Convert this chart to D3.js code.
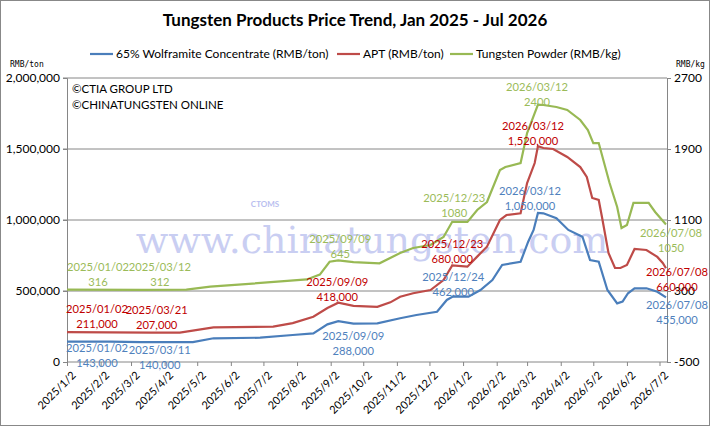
<!DOCTYPE html>
<html><head><meta charset="utf-8">
<script src="https://cdn.jsdelivr.net/npm/d3@7"></script>
<style>body{margin:0;background:#fff}svg{font-family:Lato,"Liberation Sans",sans-serif}</style>
</head><body><svg id="c" width="710" height="426"></svg>
<script>
const wolframite = [["2025-01-02",143000],["2025-02-11",143000],["2025-03-11",140000],["2025-04-28",140000],["2025-05-17",167000],["2025-06-29",171000],["2025-07-29",190000],["2025-08-17",202000],["2025-08-30",265000],["2025-09-09",288000],["2025-09-23",270000],["2025-10-15",272000],["2025-11-05",308000],["2025-11-20",331000],["2025-12-09",354000],["2025-12-18",437000],["2025-12-24",462000],["2026-01-07",460000],["2026-01-18",507000],["2026-01-29",577000],["2026-02-07",683000],["2026-02-24",706000],["2026-03-03",847000],["2026-03-08",930000],["2026-03-12",1050000],["2026-03-17",1047000],["2026-03-29",1012000],["2026-04-09",930000],["2026-04-22",882000],["2026-04-29",718000],["2026-05-07",706000],["2026-05-15",507000],["2026-05-24",413000],["2026-05-29",425000],["2026-06-03",484000],["2026-06-09",519000],["2026-06-20",519000],["2026-06-30",495000],["2026-07-08",455000]];
const apt = [["2025-01-02",211000],["2025-03-21",207000],["2025-04-16",207000],["2025-05-17",244000],["2025-07-11",249000],["2025-07-29",274000],["2025-08-17",319000],["2025-08-30",380000],["2025-09-09",418000],["2025-09-23",395000],["2025-10-15",388000],["2025-10-27",420000],["2025-11-05",460000],["2025-11-17",484000],["2025-12-03",507000],["2025-12-15",577000],["2025-12-23",680000],["2026-01-06",671000],["2026-01-15",742000],["2026-01-24",812000],["2026-02-05",1000000],["2026-02-11",1035000],["2026-02-24",1047000],["2026-03-02",1260000],["2026-03-09",1401000],["2026-03-12",1520000],["2026-03-17",1507000],["2026-03-26",1500000],["2026-04-08",1444000],["2026-04-20",1373000],["2026-04-26",1303000],["2026-05-01",1155000],["2026-05-07",1141000],["2026-05-10",1021000],["2026-05-16",768000],["2026-05-22",662000],["2026-05-27",662000],["2026-06-02",683000],["2026-06-09",796000],["2026-06-20",789000],["2026-06-30",740000],["2026-07-05",697000],["2026-07-08",660000]];
const powder = [["2025-01-02",316],["2025-03-12",312],["2025-04-22",316],["2025-05-14",349],["2025-07-24",413],["2025-08-11",430],["2025-08-23",485],["2025-09-01",630],["2025-09-09",645],["2025-09-23",625],["2025-10-17",612],["2025-11-05",728],["2025-11-17",785],["2025-12-03",818],["2025-12-15",908],["2025-12-23",1080],["2026-01-06",1078],["2026-01-15",1213],["2026-01-24",1303],["2026-02-05",1663],["2026-02-10",1697],["2026-02-24",1742],["2026-03-02",2080],["2026-03-12",2400],["2026-03-17",2396],["2026-03-29",2373],["2026-04-08",2340],["2026-04-20",2227],["2026-04-27",2114],["2026-05-02",1967],["2026-05-07",1967],["2026-05-17",1517],["2026-05-24",1246],["2026-05-28",1010],["2026-06-02",1044],["2026-06-08",1292],["2026-06-22",1292],["2026-06-28",1190],["2026-07-08",1050]];
const leftTicks = [0,500000,1000000,1500000,2000000];
const rightTicks = [-500,300,1100,1900,2700];
const monthTicks = ["2025-01-02","2025-02-02","2025-03-02","2025-04-02","2025-05-02","2025-06-02","2025-07-02","2025-08-02","2025-09-02","2025-10-02","2025-11-02","2025-12-02","2026-01-02","2026-02-02","2026-03-02","2026-04-02","2026-05-02","2026-06-02","2026-07-02"];
// annotations: series, date, line1, line2, dx, dy
const annotations = [
 ["g","2025-01-02","2025/01/02","316",31,-23],["g","2025-03-12","2025/03/12","312",18,-23],
 ["g","2025-09-09","2025/09/09","645",2,-21],["g","2025-12-23","2025/12/23","1080",2,-24],
 ["g","2026-03-12","2026/03/12","2400",-1,-18],["g","2026-07-08","2026/07/08","1050",5,9],
 ["r","2025-01-02","2025/01/02","211,000",30,-23],["r","2025-03-21","2025/03/21","207,000",5,-23],
 ["r","2025-09-09","2025/09/09","418,000",-1,-21],["r","2025-12-23","2025/12/23","680,000",0,-21],
 ["r","2026-03-12","2026/03/12","1,520,000",-5,-20],["r","2026-07-08","2026/07/08","660,000",11,4],
 ["b","2025-01-02","2025/01/02","143,000",30,6],["b","2025-03-11","2025/03/11","140,000",19,8],
 ["b","2025-09-09","2025/09/09","288,000",15,15],["b","2025-12-24","2025/12/24","462,000",0,-19],
 ["b","2026-03-12","2026/03/12","1,050,000",-8,-22],["b","2026-07-08","2026/07/08","455,000",11,8]];

const P = d3.timeParse("%Y-%m-%d");
const svg = d3.select("#c");
svg.append("rect").attr("x",0.5).attr("y",0.5).attr("width",709).attr("height",425).attr("fill","#fff").attr("stroke","#888");
const x = d3.scaleTime().domain([P("2025-01-02"),P("2026-07-08")]).range([67,666]);
const yL = d3.scaleLinear().domain([0,2000000]).range([362,78]);
const yR = d3.scaleLinear().domain([-500,2700]).range([362,78]);
const col = {b:"#4a7ebb", r:"#be4b48", g:"#98b954"};
const tcol = {b:"#4f81bd", r:"#c00000", g:"#9bbb59"};

svg.append("g").selectAll("line").data(leftTicks.slice(1)).join("line")
 .attr("x1",63).attr("x2",667).attr("y1",d=>yL(d)).attr("y2",d=>yL(d)).attr("stroke","#868686").attr("stroke-width",1);
svg.append("text").attr("x",372).attr("y",253).attr("text-anchor","middle").attr("font-family","DejaVu Serif,serif")
 .attr("font-size",38).attr("fill","#7b86e0").attr("opacity",0.4).text("www.chinatungsten.com");
svg.append("text").attr("x",265).attr("y",207).attr("text-anchor","middle").attr("font-size",8).attr("font-weight","bold")
 .attr("fill","#8a93e6").attr("opacity",0.6).text("CTOMS");

const la = svg.append("g").attr("transform","translate(67,0)").call(d3.axisLeft(yL).tickValues(leftTicks).tickSize(4).tickFormat(d3.format(",")));
la.select(".domain").attr("stroke","#868686");
la.selectAll("line").attr("stroke","#868686");
la.selectAll("text").attr("font-size",12).attr("fill","#000").attr("font-family","Lato,sans-serif");
const ra = svg.append("g").attr("transform","translate(667,0)").call(d3.axisRight(yR).tickValues(rightTicks).tickSize(4).tickFormat(d=>d));
ra.select(".domain").attr("stroke","#868686");
ra.selectAll("line").attr("stroke","#868686");
ra.selectAll("text").attr("font-size",12).attr("fill","#000").attr("font-family","Lato,sans-serif");
const xa = svg.append("g").attr("transform","translate(0,362)").call(d3.axisBottom(x).tickValues(monthTicks.map(P)).tickSize(4).tickFormat(d3.timeFormat("%Y/%-m/%-d")));
xa.select(".domain").attr("stroke","#868686").attr("d","M67,0H667");
xa.selectAll("line").attr("stroke","#868686");
xa.selectAll("text").attr("font-size",11).attr("fill","#000").attr("font-family","Lato,sans-serif")
 .attr("text-anchor","end").attr("dy",0).attr("dx",0).attr("transform","translate(4,9) rotate(-45)");

const mk = y => d3.line().x(d=>x(P(d[0]))).y(d=>y(d[1]));
svg.append("path").datum(wolframite).attr("d",mk(yL)).attr("fill","none").attr("stroke",col.b).attr("stroke-width",2.2);
svg.append("path").datum(apt).attr("d",mk(yL)).attr("fill","none").attr("stroke",col.r).attr("stroke-width",2.2);
svg.append("path").datum(powder).attr("d",mk(yR)).attr("fill","none").attr("stroke",col.g).attr("stroke-width",2.2);

const ser = {b:[wolframite,yL], r:[apt,yL], g:[powder,yR]};
annotations.forEach(a=>{
 const [data,ys] = ser[a[0]];
 const pt = data.find(d=>d[0]===a[1]);
 const px = x(P(pt[0]))+a[4], py = ys(pt[1])+a[5];
 const t = svg.append("text").attr("text-anchor","middle").attr("font-size",11.2).attr("fill",tcol[a[0]]).attr("font-family","Lato,sans-serif");
 t.append("tspan").attr("x",px).attr("y",py+4).text(a[2]);
 t.append("tspan").attr("x",px).attr("y",py+19).text(a[3]);
});

svg.append("text").attr("x",355).attr("y",26).attr("text-anchor","middle").attr("font-size",17).attr("font-weight","bold").text("Tungsten Products Price Trend, Jan 2025 - Jul 2026");
const leg = [["b","65% Wolframite Concentrate (RMB/ton)",90],["r","APT (RMB/ton)",337],["g","Tungsten Powder (RMB/kg)",450]];
leg.forEach(l=>{
 svg.append("line").attr("x1",l[2]).attr("x2",l[2]+23).attr("y1",54).attr("y2",54).attr("stroke",col[l[0]]).attr("stroke-width",2.2);
 svg.append("text").attr("x",l[2]+26).attr("y",58).attr("font-size",12).text(l[1]);
});
svg.append("text").attr("x",10).attr("y",67).attr("font-size",8).attr("font-family","DejaVu Sans Mono,monospace").text("RMB/ton");
svg.append("text").attr("x",676).attr("y",67).attr("font-size",8).attr("font-family","DejaVu Sans Mono,monospace").text("RMB/kg");
svg.append("text").attr("x",72).attr("y",93).attr("font-size",11.5).text("©CTIA GROUP LTD");
svg.append("text").attr("x",72).attr("y",109).attr("font-size",11.5).text("©CHINATUNGSTEN ONLINE");
</script></body></html>
